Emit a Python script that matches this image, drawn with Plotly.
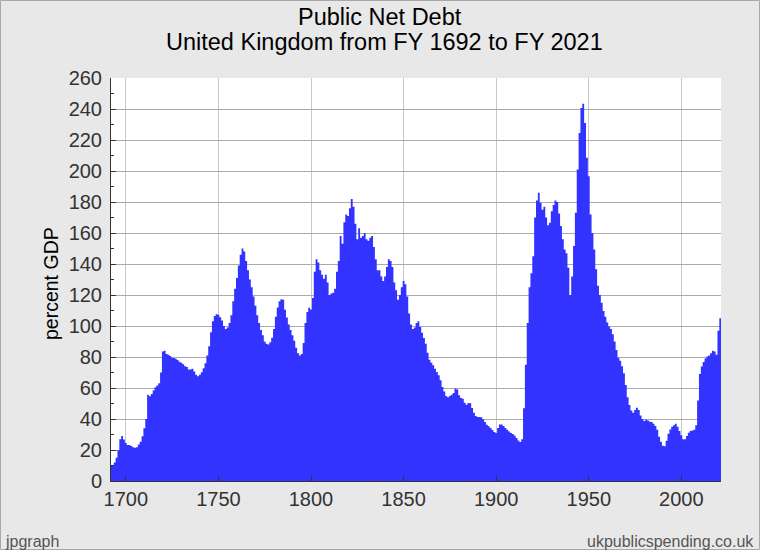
import plotly.graph_objects as go

# ---- data (percent of GDP) ----
first_year = 1692
last_year = 2021
years = list(range(first_year, last_year + 1))

debt_1692_1741 = [
    9.8, 10.3, 12, 15, 20, 27, 29, 26.7, 24.5, 23.2,
    23.2, 22.6, 21.7, 21.5, 21.7, 23.6, 25.4, 28.8, 34, 40,
    55.6, 54.7, 56.2, 58.4, 60.5, 61.6, 63.1, 70, 83.5, 84,
    82, 81.5, 80.6, 79.5, 79.3, 78.9, 78, 77, 76.3, 75.4,
    74, 73.5, 72, 72, 72.4, 70.7, 68.5, 67.6, 68.5, 70.2,
]
debt_1742_1791 = [
    72.8, 76, 81, 87, 96, 103, 106.5, 107.6, 107.3, 105.7,
    103.5, 100, 98, 99, 102, 107, 116, 124, 131, 139,
    146, 150, 148, 142, 136, 130, 125, 119, 113, 107,
    102, 97.5, 94, 90, 88.5, 88, 89.5, 92.5, 98, 106,
    112, 116, 117.2, 117, 110.5, 105.5, 101, 97.5, 94, 90.5,
]
debt_1792_1841 = [
    86, 82.5, 81, 82, 89, 102, 109, 111.8, 110.7, 118,
    135, 143, 141, 136, 133, 130.5, 133, 128, 120, 121,
    121.5, 124, 135, 142, 158, 153, 167, 172, 171, 176,
    182, 177, 166, 156, 163, 157, 158, 160, 156, 155,
    157, 158, 151, 143, 136, 136, 132, 129, 132, 138,
]
debt_1842_1891 = [
    143, 142, 138, 128, 123, 117, 120, 125, 129, 127,
    119, 108, 101, 98, 99, 102, 103, 99.4, 95.7, 92.3,
    88.6, 82.8, 78.3, 76.3, 74.6, 72.5, 70.3, 68.2, 65, 60.6,
    57.8, 54.8, 54, 54.8, 55.7, 56.8, 59.6, 59.1, 55.3, 53.5,
    53.1, 50.5, 49.2, 50.3, 50.1, 47.1, 44.1, 41.9, 41.3, 41.3,
]
debt_1892_1941 = [
    41.1, 39.8, 38, 36.3, 35.3, 34.2, 32.9, 31.6, 31, 34.2,
    36.5, 36.5, 35.5, 34.2, 33.1, 32, 31, 30.3, 29.4, 27.7,
    26.2, 25.1, 27, 47, 75, 102, 125, 134, 145, 170,
    181, 186, 179.5, 175, 177, 170, 165, 166.6, 174, 178,
    181, 180, 172.6, 164.5, 156, 149.4, 146.9, 137.6, 120, 132,
]
debt_1942_1991 = [
    151.6, 173, 201, 224.5, 240.6, 243.4, 231, 208.5, 196.6, 172,
    160, 149.4, 136.6, 126, 120, 115, 109.7, 106, 102.2, 99.7,
    98, 94.7, 90, 84.5, 79.5, 77.6, 74, 69.5, 62, 54,
    49, 45.5, 44, 45.8, 47.3, 45.8, 42.3, 40, 38.7, 39.6,
    39, 38.2, 38, 37, 35.5, 33, 28.5, 25.3, 22.7, 22.5,
]
debt_1992_2021 = [
    26, 30.5, 33.3, 35, 36, 37, 35, 32.2, 29.5, 27,
    27, 29, 31.2, 32.2, 32.6, 33, 36, 52, 69, 73.8,
    76.7, 79, 80.3, 81, 82.5, 84, 83.5, 81.5, 97, 105,
]
debt = (debt_1692_1741 + debt_1742_1791 + debt_1792_1841 + debt_1842_1891
        + debt_1892_1941 + debt_1942_1991 + debt_1992_2021)

y_ticks = list(range(0, 261, 20))
x_ticks = [1700, 1750, 1800, 1850, 1900, 1950, 2000]

title_line1 = "Public Net Debt"
title_line2 = "United Kingdom from FY 1692 to FY 2021"
y_title = "percent GDP"
footer_left = "jpgraph"
footer_right = "ukpublicspending.co.uk"

# ---- step outline: each year is a 1-year wide bar ----
step_x = [y - 0.5 for y in years] + [years[-1] + 0.5]
step_y = debt + [debt[-1]]

W, H = 760, 550
L, R, T, B = 111, 721, 78, 481


def px_x(p):
    return (p - L) / (R - L)


def px_y(p):
    return (B - p) / (B - T)


FONT = "Liberation Sans, Arial, sans-serif"
BLUE = "#3333ff"

fig = go.Figure()
fig.add_trace(go.Scatter(
    x=step_x, y=step_y, mode="lines", line=dict(shape="hv", width=0, color=BLUE),
    fill="tozeroy", fillcolor=BLUE, hoverinfo="skip", showlegend=False,
))


def label(text, x, y, size, color, xanchor="center", angle=0):
    return dict(text=text, xref="paper", yref="paper", x=px_x(x), y=px_y(y),
                xanchor=xanchor, yanchor="middle", showarrow=False, textangle=angle,
                font=dict(family=FONT, size=size, color=color))


fig.update_layout(
    width=W, height=H,
    margin=dict(l=L, r=W - R, t=T, b=H - B, pad=0),
    paper_bgcolor="#e8e8e8",
    plot_bgcolor="#ffffff",
    font=dict(family=FONT, color="#333333"),
    showlegend=False,
    xaxis=dict(
        range=[1692.0, 2021.4],
        tickvals=x_ticks,
        ticks="inside", ticklen=5, tickcolor="#333333",
        showgrid=True, gridcolor="#c8c8c8", gridwidth=1,
        showline=True, linecolor="#333333", linewidth=1,
        zeroline=False,
        tickfont=dict(size=20, color="#333333"),
        ticklabelstandoff=0,
    ),
    yaxis=dict(
        range=[0, 260],
        tickvals=y_ticks,
        ticks="inside", ticklen=5, tickcolor="#333333",
        minor=dict(dtick=10, ticks="inside", ticklen=3, tickcolor="#333333", showgrid=False),
        showgrid=True, gridcolor="#aaaaaa", gridwidth=1,
        showline=True, linecolor="#333333", linewidth=1,
        zeroline=False,
        tickfont=dict(size=20, color="#333333"),
        ticklabelstandoff=4,
    ),
    shapes=[dict(
        type="rect", xref="paper", yref="paper",
        x0=px_x(0.5), x1=px_x(W - 0.5), y0=px_y(H - 0.5), y1=px_y(0.5),
        line=dict(color="#a8a8a8", width=1), fillcolor="rgba(0,0,0,0)", layer="above",
    )],
    annotations=[
        label(title_line1, 380, 17, 23.5, "#000000"),
        label(title_line2, 384, 42, 23.5, "#000000"),
        label(y_title, 51, 284, 19.5, "#000000", angle=-90),
        label(footer_left, 3, 541, 16, "#555555", xanchor="left"),
        label(footer_right, 756, 541, 16, "#555555", xanchor="right"),
    ],
)

fig.write_html(
    "out.html",
    config={"displayModeBar": False},
    post_script="document.body.style.margin='0';document.body.style.overflow='hidden';",
)
